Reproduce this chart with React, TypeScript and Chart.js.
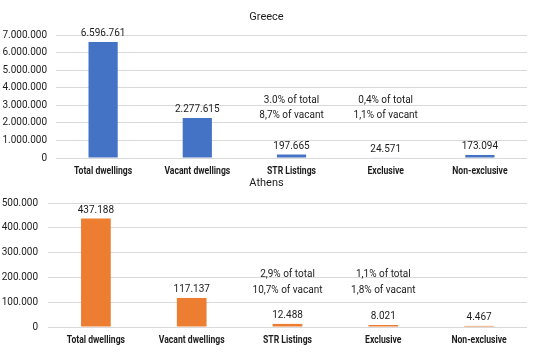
import React, { useEffect, useRef } from "react";
import { Chart, registerables } from "chart.js";

Chart.register(...registerables);

const categories = ["Total dwellings", "Vacant dwellings", "STR Listings", "Exclusive", "Non-exclusive"];

const greeceValues = [6596761, 2277615, 197665, 24571, 173094];
const athensValues = [437188, 117137, 12488, 8021, 4467];

const greeceNotes = [null, null, ["3.0% of total", "8,7% of vacant"], ["0,4% of total", "1,1% of vacant"], null];
const athensNotes = [null, null, ["2,9% of total", "10,7% of vacant"], ["1,1% of total", "1,8% of vacant"], null];

// value levels (on each chart's y scale) where the two note lines sit
const greeceNoteLevels = [3300000, 2420000];
const athensNoteLevels = [213000, 146000];

const greeceMax = 7000000;
const greeceStep = 1000000;
const athensMax = 500000;
const athensStep = 100000;

const FONT = "Roboto, 'Liberation Sans', sans-serif";
const TEXT = "#1c1c1c";

const fmt = (v: number) => String(Math.round(v)).replace(/\B(?=(\d{3})+(?!\d))/g, ".");

function drawScaled(ctx: CanvasRenderingContext2D, text: string, x: number, y: number, sx: number) {
  ctx.save();
  ctx.translate(x, y);
  ctx.scale(sx, 1);
  ctx.fillText(text, 0, 0);
  ctx.restore();
}

const textPlugin = {
  id: "textLayer",
  afterDraw(chart: any, _args: any, opts: any) {
    const ctx = chart.ctx as CanvasRenderingContext2D;
    const area = chart.chartArea;
    const xs = chart.scales.x;
    const ys = chart.scales.y;
    const meta = chart.getDatasetMeta(0);
    const data = chart.data.datasets[0].data as number[];
    ctx.save();
    ctx.fillStyle = TEXT;
    ctx.textAlign = "center";

    // title
    ctx.font = `normal 11px ${FONT}`;
    ctx.textBaseline = "middle";
    ctx.fillText(opts.title, chart.width / 2, opts.titleY);

    // category labels
    ctx.font = `bold 10.5px ${FONT}`;
    ctx.textBaseline = "middle";
    (chart.data.labels as string[]).forEach((lab, i) => {
      drawScaled(ctx, lab, xs.getPixelForValue(i), area.bottom + 13.5, 0.82);
    });

    // value labels
    ctx.font = `normal 10px ${FONT}`;
    ctx.textBaseline = "alphabetic";
    meta.data.forEach((bar: any, i: number) => {
      ctx.fillText(fmt(data[i]), bar.x, bar.y - 6);
    });

    // notes
    const notes = opts.notes as (string[] | null)[];
    const levels = opts.levels as number[];
    ctx.textBaseline = "middle";
    notes.forEach((n, i) => {
      if (!n) return;
      const x = xs.getPixelForValue(i);
      n.forEach((line, k) => {
        ctx.fillText(line, x, ys.getPixelForValue(levels[k]));
      });
    });
    ctx.restore();
  },
};

function makeConfig(
  title: string,
  values: number[],
  color: string,
  max: number,
  step: number,
  yWidth: number,
  tickPad: number,
  notes: any,
  levels: number[],
  padTop: number,
  padBottom: number
) {
  return {
    type: "bar" as const,
    data: {
      labels: categories,
      datasets: [
        {
          data: values,
          backgroundColor: color,
          borderWidth: 0,
          barPercentage: 0.31,
          categoryPercentage: 1,
        },
      ],
    },
    options: {
      animation: false,
      responsive: false,
      maintainAspectRatio: false,
      layout: { padding: { left: 0, right: 6, top: padTop, bottom: padBottom } },
      plugins: {
        legend: { display: false },
        tooltip: { enabled: false },
        title: { display: false },
        textLayer: { title, titleY: 17, notes, levels },
      },
      scales: {
        x: {
          grid: { display: false, drawTicks: false },
          border: { display: false },
          ticks: { display: false },
          afterFit: (s: any) => {
            s.height = 20;
          },
        },
        y: {
          min: 0,
          max,
          afterFit: (s: any) => {
            s.width = yWidth;
          },
          grid: { color: "#d9d9d9", lineWidth: 1, drawTicks: false },
          border: { display: false },
          ticks: {
            stepSize: step,
            autoSkip: false,
            color: TEXT,
            font: { family: FONT, size: 10 },
            padding: tickPad,
            callback: (v: any) => fmt(Number(v)),
          },
        },
      },
    },
    plugins: [textPlugin],
  };
}

export default function App() {
  const topRef = useRef<HTMLCanvasElement>(null);
  const botRef = useRef<HTMLCanvasElement>(null);

  useEffect(() => {
    const c1 = new Chart(
      topRef.current as HTMLCanvasElement,
      makeConfig("Greece", greeceValues, "#4472C4", greeceMax, greeceStep, 56, 9, greeceNotes, greeceNoteLevels, 35, 4) as any
    );
    const c2 = new Chart(
      botRef.current as HTMLCanvasElement,
      makeConfig("Athens", athensValues, "#ED7D31", athensMax, athensStep, 48, 10, athensNotes, athensNoteLevels, 37, 17) as any
    );
    return () => {
      c1.destroy();
      c2.destroy();
    };
  }, []);

  return (
    <div style={{ position: "fixed", left: 0, top: 0, width: 533, height: 364, background: "#fff" }}>
      <canvas ref={topRef} width={533} height={182} style={{ position: "absolute", left: 0, top: 0, width: 533, height: 182 }} />
      <canvas ref={botRef} width={533} height={198} style={{ position: "absolute", left: 0, top: 166, width: 533, height: 198 }} />
    </div>
  );
}
